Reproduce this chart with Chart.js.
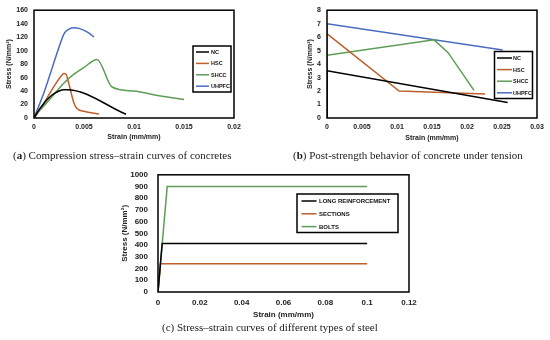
<!DOCTYPE html>
<html><head><meta charset="utf-8">
<script src="https://cdn.jsdelivr.net/npm/chart.js@4.4.1/dist/chart.umd.min.js"></script>
<style>
html,body{margin:0;padding:0;background:#fff;width:550px;height:340px;overflow:hidden}
canvas{position:absolute}
.cap{position:absolute;font-family:'Liberation Serif','Times New Roman',serif;font-size:11px;color:#222;white-space:nowrap;line-height:14px}
</style></head><body>
<canvas id="ca" width="270" height="145" style="left:0;top:0"></canvas>
<canvas id="cb" width="280" height="145" style="left:270px;top:0"></canvas>
<canvas id="cc" width="340" height="162" style="left:100px;top:160px"></canvas>
<div class="cap" style="left:13px;top:148px">(<b>a</b>) Compression stress–strain curves of concretes</div>
<div class="cap" style="left:293px;top:148px">(<b>b</b>) Post-strength behavior of concrete under tension</div>
<div class="cap" style="left:162px;top:320px">(c) Stress–strain curves of different types of steel</div>
<script>
// ---------- Chart (a): compression ----------
const xTicksA = [0, 0.005, 0.01, 0.015, 0.02];
const ncStrainA = [0, 0.0005, 0.001, 0.0015, 0.002, 0.0025, 0.003, 0.0033, 0.0092];
const ncStressA = [0, 12, 22, 30, 36, 40, 42, 42, 5.5];
const hscStrainA = [0, 0.001, 0.002, 0.0027, 0.003, 0.0032, 0.0035, 0.004, 0.0043, 0.005, 0.0065];
const hscStressA = [0, 22, 47, 62, 66, 65, 50, 22, 14, 10, 6];
const shccStrainA = [0, 0.0005, 0.001, 0.002, 0.003, 0.004, 0.005, 0.0063, 0.0078, 0.01, 0.0125, 0.015];
const shccStressA = [0, 10, 18, 35, 52, 65, 75, 87, 46, 40, 33, 27.5];
const uhpfcStrainA = [0, 0.001, 0.0017, 0.0025, 0.003, 0.0035, 0.004, 0.0045, 0.005, 0.0055, 0.006];
const uhpfcStressA = [0, 38, 69, 105, 125, 132, 134, 133, 130, 126, 120];

// ---------- Chart (b): tension ----------
const xTicksB = [0, 0.005, 0.01, 0.015, 0.02, 0.025, 0.03];
const ncStrainB = [0, 0, 0.0258];
const ncStressB = [0, 3.5, 1.15];
const hscStrainB = [0, 0, 0.0103, 0.0226];
const hscStressB = [0, 6.25, 2.0, 1.78];
const shccStrainB = [0, 0, 0.0153, 0.0173, 0.021];
const shccStressB = [0, 4.65, 5.8, 4.85, 2.05];
const uhpfcStrainB = [0, 0, 0.0251];
const uhpfcStressB = [0, 7.0, 5.05];

// ---------- Chart (c): steel ----------
const xTicksC = [0, 0.02, 0.04, 0.06, 0.08, 0.1, 0.12];
const longStrainC = [0, 0.002, 0.1];
const longStressC = [0, 414, 414];
const secStrainC = [0, 0.0012, 0.1];
const secStressC = [0, 240, 240];
const boltStrainC = [0, 0.0044, 0.1];
const boltStressC = [0, 900, 900];

const seriesNamesAB = ['NC', 'HSC', 'SHCC', 'UHPFC'];
const seriesNamesC = ['LONG REINFORCEMENT', 'SECTIONS', 'BOLTS'];

const BLACK = '#000000', BROWN = '#bf5f2e', GREEN = '#5e9c57', BLUE = '#4a6cc0';
const FONT = "'Liberation Sans', Arial, sans-serif";

const pts = (xs, ys) => xs.map((x, i) => ({x, y: ys[i]}));

const framePlugin = {
  id: 'frame',
  afterDatasetsDraw(chart) {
    const {ctx, chartArea: a} = chart;
    ctx.save();
    ctx.strokeStyle = '#000'; ctx.lineWidth = 1.5;
    ctx.strokeRect(a.left, a.top, a.right - a.left, a.bottom - a.top);
    ctx.restore();
  }
};
const boxLegend = {
  id: 'boxLegend',
  afterDraw(chart, args, o) {
    if (!o || o.x === undefined) return;
    const ctx = chart.ctx;
    ctx.save();
    ctx.fillStyle = '#fff';
    ctx.fillRect(o.x, o.y, o.w, o.h);
    ctx.strokeStyle = '#000'; ctx.lineWidth = 1.5;
    ctx.strokeRect(o.x, o.y, o.w, o.h);
    ctx.font = 'bold ' + o.size + 'px ' + FONT;
    ctx.textBaseline = 'middle'; ctx.textAlign = 'left';
    chart.data.datasets.forEach((ds, i) => {
      const y = o.y0 + i * o.dy;
      ctx.strokeStyle = ds.borderColor; ctx.lineWidth = 1.5;
      ctx.beginPath(); ctx.moveTo(o.lx0, y); ctx.lineTo(o.lx1, y); ctx.stroke();
      ctx.fillStyle = '#111';
      ctx.fillText(ds.label, o.tx, y + 0.5);
    });
    ctx.restore();
  }
};
Chart.register(framePlugin, boxLegend);

function ds(label, xs, ys, color, smooth) {
  return {label, data: pts(xs, ys), borderColor: color, backgroundColor: color,
    borderWidth: 1.5, pointRadius: 0, fill: false,
    cubicInterpolationMode: smooth ? 'monotone' : 'default', tension: 0};
}

function makeChart(id, datasets, cfg) {
  return new Chart(document.getElementById(id), {
    type: 'line',
    data: {datasets},
    options: {
      responsive: false, animation: false,
      layout: {padding: cfg.pad},
      plugins: {legend: {display: false}, tooltip: {enabled: false}, boxLegend: cfg.legend},
      scales: {
        x: {
          type: 'linear', min: cfg.xMin, max: cfg.xMax,
          grid: {display: false, drawTicks: false}, border: {display: false},
          afterBuildTicks: s => { s.ticks = cfg.xTicks.map(v => ({value: v})); },
          afterFit: s => { s.height = cfg.xH; },
          ticks: {color: '#222', font: {family: FONT, size: cfg.tick, weight: 'bold'}, padding: cfg.xTickPad,
            maxRotation: 0, autoSkip: false, callback: v => String(v)},
          title: {display: true, text: 'Strain (mm/mm)', color: '#222',
            font: {family: FONT, size: cfg.title, weight: 'bold'}, padding: {top: 0, bottom: cfg.xTitlePad}}
        },
        y: {
          min: 0, max: cfg.yMax,
          grid: {display: false, drawTicks: false}, border: {display: false},
          afterFit: s => { s.width = cfg.yW; },
          ticks: {stepSize: cfg.yStep, autoSkip: false, callback: v => String(v),
            color: '#222', font: {family: FONT, size: cfg.tick, weight: 'bold'}, padding: cfg.yTickPad},
          title: {display: true, text: 'Stress (N/mm²)', color: '#222',
            font: {family: FONT, size: cfg.title, weight: 'bold'}, padding: {top: cfg.yTitlePad, bottom: 0}}
        }
      }
    }
  });
}

makeChart('ca', [
  ds(seriesNamesAB[0], ncStrainA, ncStressA, BLACK, true),
  ds(seriesNamesAB[1], hscStrainA, hscStressA, BROWN, true),
  ds(seriesNamesAB[2], shccStrainA, shccStressA, GREEN, true),
  ds(seriesNamesAB[3], uhpfcStrainA, uhpfcStressA, BLUE, true)
], {pad: {left: 0, top: 8, right: 36, bottom: 0}, xMin: 0, xMax: 0.02, xTicks: xTicksA,
    yMax: 160, yStep: 20, xH: 27, yW: 34, tick: 7, title: 7, xTickPad: 5, yTickPad: 6,
    xTitlePad: 4, yTitlePad: 5,
    legend: {x: 193, y: 46, w: 38, h: 46, y0: 52, dy: 11.4, lx0: 196, lx1: 209, tx: 211, size: 5.5}});

makeChart('cb', [
  ds(seriesNamesAB[0], ncStrainB, ncStressB, BLACK, false),
  ds(seriesNamesAB[1], hscStrainB, hscStressB, BROWN, false),
  ds(seriesNamesAB[2], shccStrainB, shccStressB, GREEN, false),
  ds(seriesNamesAB[3], uhpfcStrainB, uhpfcStressB, BLUE, false)
], {pad: {left: 31, top: 9, right: 13, bottom: 0}, xMin: 0, xMax: 0.03, xTicks: xTicksB,
    yMax: 8, yStep: 1, xH: 27, yW: 26, tick: 7, title: 7, xTickPad: 5, yTickPad: 6,
    xTitlePad: 3, yTitlePad: 5,
    legend: {x: 224.5, y: 51.5, w: 38, h: 47, y0: 58, dy: 11.6, lx0: 227, lx1: 242, tx: 243, size: 5.5}});

makeChart('cc', [
  ds(seriesNamesC[0], longStrainC, longStressC, BLACK, false),
  ds(seriesNamesC[1], secStrainC, secStressC, BROWN, false),
  ds(seriesNamesC[2], boltStrainC, boltStressC, GREEN, false)
], {pad: {left: 0, top: 8, right: 31, bottom: 0}, xMin: 0, xMax: 0.12, xTicks: xTicksC,
    yMax: 1000, yStep: 100, xH: 30, yW: 58, tick: 8, title: 8, xTickPad: 6, yTickPad: 10,
    xTitlePad: 2, yTitlePad: 20,
    legend: {x: 197, y: 34, w: 101, h: 38.5, y0: 41, dy: 12.8, lx0: 201.5, lx1: 216.5, tx: 219, size: 6}});
</script>
</body></html>
